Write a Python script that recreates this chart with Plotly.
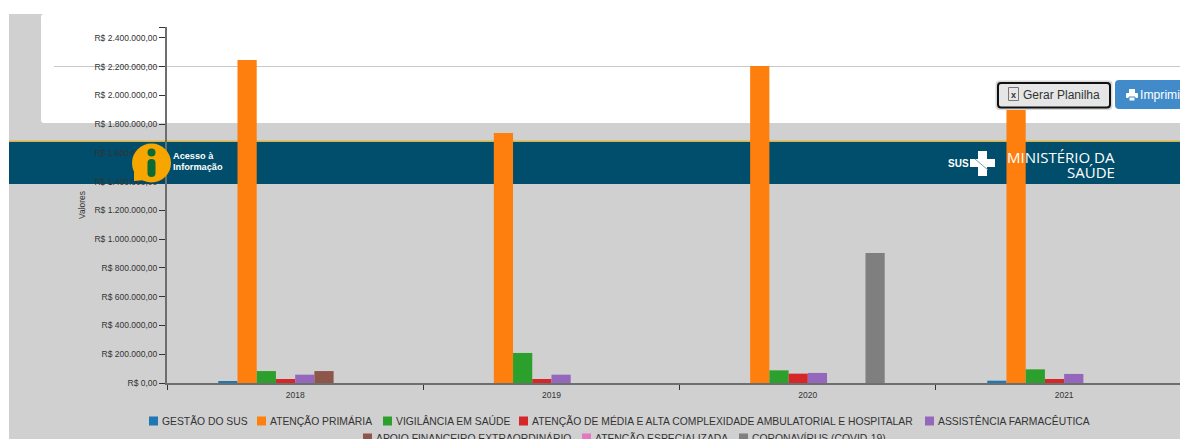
#!/usr/bin/python3
# -*- coding: utf-8 -*-

import plotly.graph_objects as go

anos = ['2018', '2019', '2020', '2021']

gestao = [8000, 0, 0, 16000]
primaria = [2247000, 1739000, 2205000, 1970000]
vigilancia = [83000, 209000, 88000, 95000]
media_alta = [28000, 28000, 65000, 28000]
farmaceutica = [58000, 58000, 70000, 63000]
apoio = [83000, 0, 0, 0]
especializada = [0, 0, 0, 0]
covid = [0, 0, 904000, 0]

nomes = ['GESTÃO DO SUS', 'ATENÇÃO PRIMÁRIA', 'VIGILÂNCIA EM SAÚDE',
         'ATENÇÃO DE MÉDIA E ALTA COMPLEXIDADE AMBULATORIAL E HOSPITALAR',
         'ASSISTÊNCIA FARMACÊUTICA', 'APOIO FINANCEIRO EXTRAORDINÁRIO',
         'ATENÇÃO ESPECIALIZADA', 'CORONAVÍRUS (COVID-19)']
cores = ['#1f77b4', '#ff7f0e', '#2ca02c', '#d62728', '#9467bd', '#8c564b', '#e377c2', '#7f7f7f']
series = [gestao, primaria, vigilancia, media_alta, farmaceutica, apoio, especializada, covid]

y_ticks = [0, 200000, 400000, 600000, 800000, 1000000, 1200000, 1400000,
           1600000, 1800000, 2000000, 2200000, 2400000, 2476000]
y_labels = ['R$ 0,00', 'R$ 200.000,00', 'R$ 400.000,00', 'R$ 600.000,00', 'R$ 800.000,00',
            'R$ 1.000.000,00', 'R$ 1.200.000,00', 'R$ 1.400.000,00', 'R$ 1.600.000,00',
            'R$ 1.800.000,00', 'R$ 2.000.000,00', 'R$ 2.200.000,00', 'R$ 2.400.000,00', '']

# page pixels of the plot area
LEFT, RIGHT, TOP, BOTTOM = 167, 1180, 27, 383
FONTE = 'Liberation Sans, Arial, sans-serif'


def fx(p):
    return (p - LEFT) / (RIGHT - LEFT)


def fy(p):
    return (BOTTOM - p) / (BOTTOM - TOP)


def caixa(x0, y0, x1, y1, cor, layer='below', borda=None, lw=0):
    return dict(type='rect', xref='paper', yref='paper', x0=fx(x0), x1=fx(x1), y0=fy(y0), y1=fy(y1),
                fillcolor=cor, layer=layer, line=dict(color=borda or cor, width=lw))


def redonda(x0, y0, x1, y1, r, cor, layer='above', borda=None, lw=0):
    path = 'M {} {} L {} {} Q {} {} {} {} L {} {} Q {} {} {} {} L {} {} Q {} {} {} {} L {} {} Q {} {} {} {} Z'.format(
        fx(x0 + r), fy(y0), fx(x1 - r), fy(y0), fx(x1), fy(y0), fx(x1), fy(y0 + r),
        fx(x1), fy(y1 - r), fx(x1), fy(y1), fx(x1 - r), fy(y1),
        fx(x0 + r), fy(y1), fx(x0), fy(y1), fx(x0), fy(y1 - r),
        fx(x0), fy(y0 + r), fx(x0), fy(y0), fx(x0 + r), fy(y0))
    return dict(type='path', xref='paper', yref='paper', path=path, fillcolor=cor, layer=layer,
                line=dict(color=borda or cor, width=lw))


def circulo(cx, cy, r, cor):
    return dict(type='circle', xref='paper', yref='paper', x0=fx(cx - r), x1=fx(cx + r),
                y0=fy(cy + r), y1=fy(cy - r), fillcolor=cor, layer='above', line=dict(width=0))


def linha(x0, y0, x1, y1, cor, w=1, layer='above'):
    return dict(type='line', xref='paper', yref='paper', x0=fx(x0), x1=fx(x1), y0=fy(y0), y1=fy(y1),
                layer=layer, line=dict(color=cor, width=w))


def texto(x, y, t, size, cor, anchor='left', family=FONTE):
    return dict(xref='paper', yref='paper', x=fx(x), y=fy(y), text=t, showarrow=False, xanchor=anchor,
                yanchor='middle', borderpad=0, borderwidth=0, font=dict(size=size, color=cor, family=family))


fig = go.Figure()
for nome, cor, valores in zip(nomes, cores, series):
    fig.add_trace(go.Bar(x=anos, y=valores, name=nome, marker=dict(color=cor, line=dict(width=0)),
                         showlegend=False))

shapes = [
    # page behind the chart
    caixa(9, 14, 1180, 439, '#d0d0d0'),
    redonda(41, 14, 1190, 123, 3, '#ffffff', layer='below'),
    linha(54, 66.5, 1180, 66.5, '#c8c8c8', layer='below'),
    caixa(9, 141, 1180, 184, '#004e6b'),
    caixa(9, 140.5, 1180, 142, '#d9b443'),
    # info icon
    circulo(151.5, 163, 19.5, '#f7a600'),
    dict(type='path', xref='paper', yref='paper', layer='above', fillcolor='#f7a600', line=dict(width=0),
         path='M {} {} L {} {} L {} {} Z'.format(fx(134), fy(171), fx(134), fy(181), fx(146), fy(180))),
    circulo(151.5, 152.5, 4, '#0a6b34'),
    redonda(147.5, 159, 155.5, 177, 4, '#0a6b34'),
    # SUS cross
    caixa(978, 151, 987, 176, '#ffffff', layer='above'),
    caixa(970, 159, 995, 167, '#ffffff', layer='above'),
    linha(975, 159, 988, 170, '#7f9fae', 1),
    # buttons
    redonda(995.5, 80.5, 1112.5, 110, 4, '#d8d8d8'),
    redonda(998, 83, 1110, 107.5, 3, '#e6e6e6', borda='#111111', lw=2),
    redonda(1115, 80, 1190, 109, 4, '#428bca'),
    caixa(1008.5, 87.5, 1018.5, 100.5, 'rgba(0,0,0,0)', layer='above', borda='#777777', lw=1),
    # print icon
    caixa(1129, 89, 1135, 93, '#ffffff', layer='above'),
    redonda(1126, 93, 1138, 98, 1, '#ffffff'),
    caixa(1129, 97, 1135, 101, '#ffffff', layer='above', borda='#428bca', lw=1),
]

annotations = [
    texto(173, 155.5, '<b>Acesso à</b>', 9.2, '#ffffff'),
    texto(173, 167, '<b>Informação</b>', 9.2, '#ffffff'),
    texto(948, 163.5, '<b>SUS</b>', 10, '#ffffff'),
    texto(1115, 156.5, 'MINISTÉRIO DA', 15, '#ffffff', anchor='right', family='Open Sans'),
    texto(1115, 171.5, 'SAÚDE', 15, '#ffffff', anchor='right', family='Open Sans'),
    texto(1023, 95, 'Gerar Planilha', 12, '#333333'),
    texto(1013.5, 95, '<b>x</b>', 9, '#333333', anchor='center'),
    texto(1140, 94.5, 'Imprimir', 12.2, '#ffffff'),
]

# legend rows of the page are centred and wrap, so they are laid out by hand
legenda_x = [149, 257, 383, 519, 925, 363, 582, 739]
legenda_y = [421, 421, 421, 421, 421, 438, 438, 438]
for nome, cor, lx, ly in zip(nomes, cores, legenda_x, legenda_y):
    shapes.append(caixa(lx, ly - 4.5, lx + 9, ly + 4.5, cor))
    annotations.append(texto(lx + 13, ly, nome, 10.35, '#333333'))

fig.update_layout(
    width=1180,
    height=439,
    margin=dict(l=LEFT, r=0, t=TOP, b=439 - BOTTOM, pad=0),
    paper_bgcolor='#ffffff',
    plot_bgcolor='rgba(0,0,0,0)',
    barmode='group',
    bargap=0.4,
    bargroupgap=0,
    font=dict(family=FONTE, size=9, color='#333333'),
    shapes=shapes,
    annotations=annotations,
    xaxis=dict(type='category', range=[-0.5, 3.452], tickson='boundaries', ticks='outside', ticklen=5,
               tickcolor='#333333', tickwidth=1, showline=True, linecolor='#6e6e6e', linewidth=2,
               showgrid=False, zeroline=False, tickfont=dict(size=8.5, color='#333333'), ticklabelstandoff=3),
    yaxis=dict(range=[0, y_ticks[-1]], tickvals=y_ticks, ticktext=y_labels, ticks='outside', ticklen=6,
               tickcolor='#333333', tickwidth=1, showline=True, linecolor='#6e6e6e', linewidth=2,
               showgrid=False, zeroline=False, tickfont=dict(size=8.5, color='#333333'),
               title=dict(text='Valores', font=dict(size=8.5, color='#333333'), standoff=7)),
)

fig.write_html("out.html", config=dict(displayModeBar=False),
               post_script="document.body.style.margin='0';document.body.style.overflow='hidden';")
